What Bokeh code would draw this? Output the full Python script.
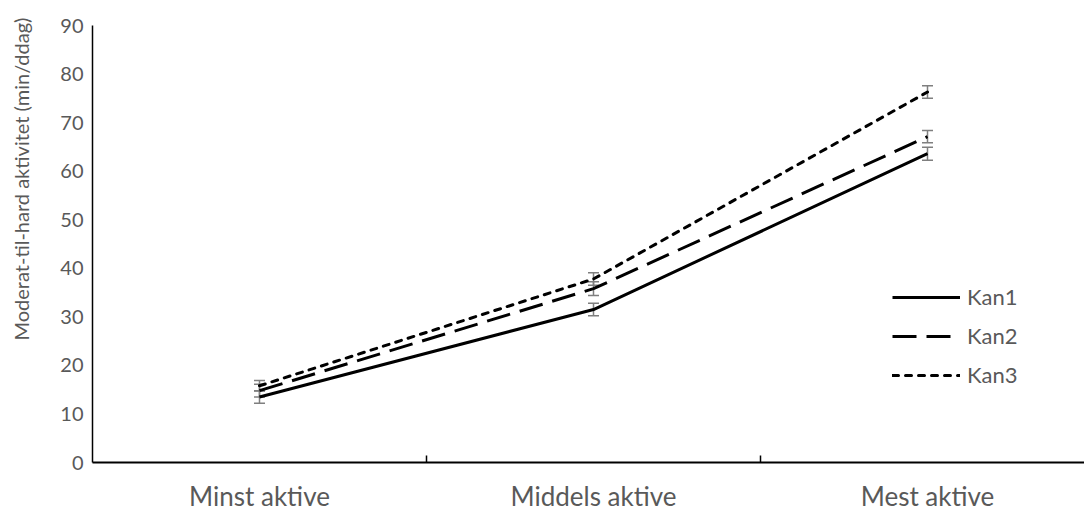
from bokeh.plotting import figure
from bokeh.models import (ColumnDataSource, FixedTicker, Whisker, TeeHead, Legend,
                          LegendItem, Title, Range1d)
from bokeh.embed import file_html
from bokeh.resources import INLINE

categories = ["Minst aktive", "Middels aktive", "Mest aktive"]
kan1 = [13.5, 31.5, 63.6]
kan1_err = [1.3, 1.3, 1.35]
kan2 = [14.8, 35.8, 67.1]
kan2_err = [1.3, 1.4, 1.25]
kan3 = [15.8, 37.8, 76.3]
kan3_err = [1.1, 1.3, 1.3]
series_names = ["Kan1", "Kan2", "Kan3"]
y_ticks = [0, 10, 20, 30, 40, 50, 60, 70, 80, 90]

FONT = "Lato"
GREY = "#595959"

W, H = 1084, 514
left_b, right_b, top_b, bottom_b = 92, 0, 25, 52
frame_w = W - left_b - right_b
cat_px = 334
x_end = frame_w / cat_px

p = figure(width=W, height=H, output_backend="svg", toolbar_location=None,
           x_range=Range1d(0, x_end), y_range=Range1d(0, 90),
           min_border_left=left_b, min_border_right=right_b,
           min_border_top=top_b, min_border_bottom=bottom_b)
p.outline_line_color = None
p.xgrid.visible = False
p.ygrid.visible = False

xc = [i + 0.5 for i in range(len(categories))]
styles = [
    dict(line_dash="solid", line_cap="butt"),
    dict(line_dash="24 10", line_cap="butt"),
    dict(line_dash="6 7", line_cap="round"),
]
renderers = []
for vals, errs, st in zip([kan1, kan2, kan3], [kan1_err, kan2_err, kan3_err], styles):
    src = ColumnDataSource(dict(x=xc, y=vals,
                                lo=[v - e for v, e in zip(vals, errs)],
                                hi=[v + e for v, e in zip(vals, errs)]))
    w = Whisker(source=src, base="x", upper="hi", lower="lo",
                line_color="#7f7f7f", line_width=1.5,
                upper_head=TeeHead(size=11, line_color="#7f7f7f", line_width=1.5),
                lower_head=TeeHead(size=11, line_color="#7f7f7f", line_width=1.5))
    p.add_layout(w)
    r = p.line("x", "y", source=src, line_color="black", line_width=3,
               line_join="round", **st)
    renderers.append(r)

p.xaxis.ticker = FixedTicker(ticks=xc, minor_ticks=[1, 2])
p.xaxis.major_label_overrides = {x: c for x, c in zip(xc, categories)}
p.xaxis.major_tick_in = 0
p.xaxis.major_tick_out = 0
p.xaxis.minor_tick_in = 7
p.xaxis.minor_tick_out = 0
p.xaxis.minor_tick_line_color = "black"
p.xaxis.minor_tick_line_width = 1.5
p.xaxis.axis_line_color = "black"
p.xaxis.axis_line_width = 2
p.xaxis.major_label_text_font = FONT
p.xaxis.major_label_text_font_size = "26px"
p.xaxis.major_label_text_color = GREY
p.xaxis.major_label_standoff = 17

p.yaxis.ticker = FixedTicker(ticks=y_ticks)
p.yaxis.major_tick_in = 0
p.yaxis.major_tick_out = 0
p.yaxis.minor_tick_line_color = None
p.yaxis.axis_line_color = "black"
p.yaxis.axis_line_width = 1.5
p.yaxis.major_label_text_font = FONT
p.yaxis.major_label_text_font_size = "20px"
p.yaxis.major_label_text_color = GREY
p.yaxis.major_label_standoff = 9

spacer = Title(text=" ", text_font=FONT, text_font_size="19px", standoff=0)
ytitle = Title(text="Moderat-til-hard aktivitet (min/ddag)", align="left", offset=122,
               text_font=FONT, text_font_size="20px", text_color=GREY,
               text_font_style="normal", standoff=0)
p.add_layout(spacer, "left")
p.add_layout(ytitle, "left")

legend = Legend(items=[LegendItem(label=n, renderers=[r]) for n, r in zip(series_names, renderers)],
                location=(800, 74), glyph_width=68, glyph_height=26,
                label_standoff=7, spacing=12, padding=0, margin=0,
                border_line_color=None, background_fill_alpha=0,
                label_text_font=FONT, label_text_font_size="22px",
                label_text_color=GREY, label_height=26)
p.add_layout(legend)

open("out.html", "w").write(file_html(p, INLINE))
